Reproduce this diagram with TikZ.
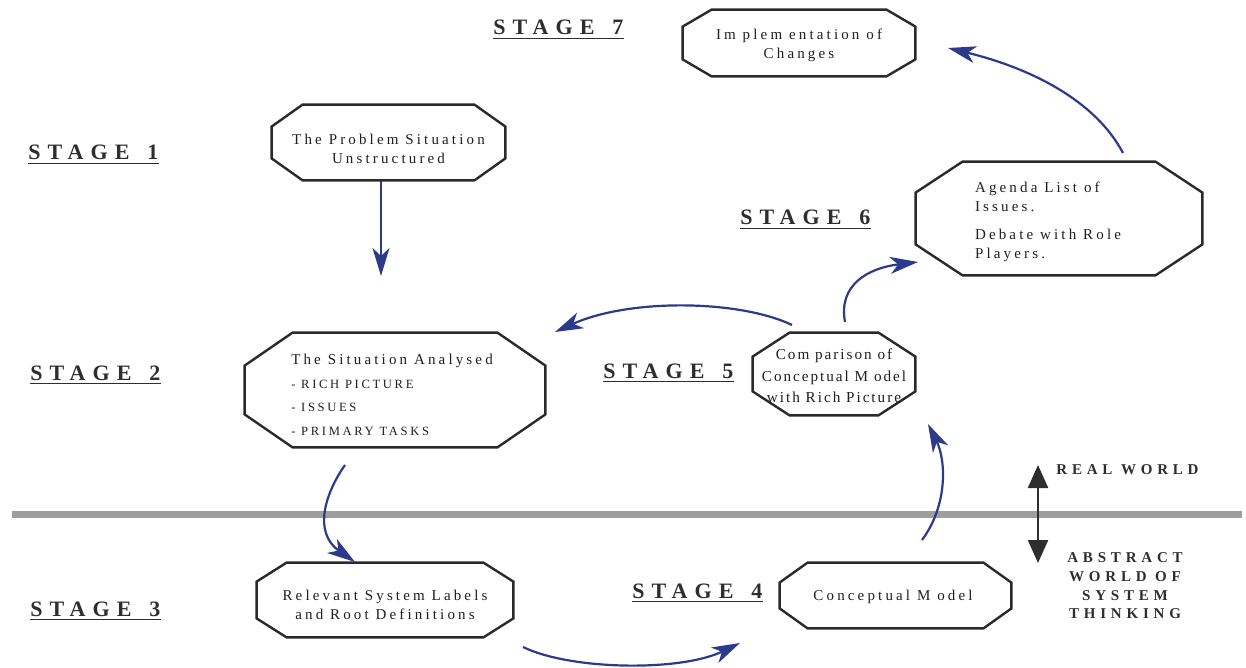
\documentclass[tikz,border=0pt]{standalone}
\usepackage{fontspec}
\setmainfont{Liberation Serif}
\newfontfamily\boxfont[LetterSpace=21]{Liberation Serif}
\newfontfamily\cmpfont[LetterSpace=13]{Liberation Serif}
\newfontfamily\stagefont[LetterSpace=32]{Liberation Serif}
\usetikzlibrary{arrows.meta}
\definecolor{txt}{HTML}{1E1E1E}
\definecolor{stg}{HTML}{2E2E2E}
\definecolor{flowblue}{HTML}{2B3A8A}
\definecolor{bandgray}{HTML}{9E9E9E}
\definecolor{boxline}{HTML}{2A2A2A}
\newcommand\drawoct[3]{\draw[octline] ([xshift=#2]#1.north west) -- ([xshift=-#2]#1.north east) -- ([yshift=-#3]#1.north east) -- ([yshift=#3]#1.south east) -- ([xshift=-#2]#1.south east) -- ([xshift=#2]#1.south west) -- ([yshift=#3]#1.south west) -- ([yshift=-#3]#1.north west) -- cycle;}
\begin{document}
\begin{tikzpicture}[x=0.5pt,y=-0.5pt,
  octline/.style={draw=boxline, line width=1.2pt, line join=miter},
  boxshape/.style={inner sep=0pt},
  boxtext/.style={inner sep=0pt, font=\boxfont\fontsize{7.5}{9.5}\selectfont, text=txt, align=center},
  stagelbl/.style={anchor=base west, inner sep=0pt, font=\stagefont\bfseries\fontsize{11}{12}\selectfont, text=stg},
  worldlbl/.style={inner sep=0pt, font=\stagefont\bfseries\fontsize{7.5}{9.3}\selectfont, text=stg, align=center},
  flow/.style={draw=flowblue, line width=1.1pt, -{Stealth[length=14pt,width=8.5pt,inset=4pt,fill=flowblue]}},
  dbl/.style={draw=stg, line width=1.1pt, {Triangle[length=11.5pt,width=10pt]}-{Triangle[length=11.5pt,width=10pt]}}
]
\path[use as bounding box] (0,0) rectangle (1246,668);

% separation band
\coordinate (bandL) at (12,514);
\coordinate (bandR) at (1242,514);
\draw[draw=bandgray, line width=3.5pt] (bandL) -- (bandR);

% boxes (outline) and their texts
\node[boxshape, minimum width=116pt, minimum height=33pt] (s7) at (799,43) {};
\drawoct{s7}{14.5pt}{8.5pt}
\node[boxtext] (s7t) at (799,45) {Im plem entation of\\Changes};

\node[boxshape, minimum width=116.5pt, minimum height=37.5pt] (s1) at (388.5,142.5) {};
\drawoct{s1}{15.5pt}{11pt}
\node[boxtext] (s1t) at (388.5,149) {The Problem Situation\\Unstructured};

\node[boxshape, minimum width=150pt, minimum height=57pt] (s2) at (395,390) {};
\drawoct{s2}{24pt}{16.5pt}
\node[boxtext, align=left, font=\boxfont\fontsize{7.5}{11.75}\selectfont] (s2t) at (392,395) {The Situation Analysed\\{\fontsize{6.3}{11.75}\selectfont - RICH PICTURE}\\{\fontsize{6.3}{11.75}\selectfont - ISSUES}\\{\fontsize{6.3}{11.75}\selectfont - PRIMARY TASKS}};

\node[boxshape, minimum width=143pt, minimum height=56.5pt] (s6) at (1059,218.5) {};
\drawoct{s6}{23.5pt}{15.5pt}
\node[boxtext, align=left] (s6t) at (1048,222) {Agenda List of\\Issues.\\[4.5pt]Debate with Role\\Players.};

\node[boxshape, minimum width=81pt, minimum height=41pt] (s5) at (834,374) {};
\drawoct{s5}{18.5pt}{12pt}
\node[boxtext, font=\cmpfont\fontsize{7.6}{10.8}\selectfont] (s5t) at (834,376) {Com parison of\\Conceptual M odel\\with Rich Picture};

\node[boxshape, minimum width=128pt, minimum height=37pt] (s3) at (385,600) {};
\drawoct{s3}{15pt}{9.5pt}
\node[boxtext] (s3t) at (385,605) {Relevant System Labels\\and Root Definitions};

\node[boxshape, minimum width=115.5pt, minimum height=32.5pt] (s4) at (895.5,595.5) {};
\drawoct{s4}{14pt}{10pt}
\node[boxtext] (s4t) at (893,597) {Conceptual M odel};

% stage labels
\node[stagelbl] (l7) at (493,35) {\underline{STAGE\hspace{9pt}7}};
\node[stagelbl] (l1) at (28,160) {\underline{STAGE\hspace{9pt}1}};
\node[stagelbl] (l2) at (30,380) {\underline{STAGE\hspace{9pt}2}};
\node[stagelbl] (l3) at (30,616) {\underline{STAGE\hspace{9pt}3}};
\node[stagelbl] (l4) at (632,598) {\underline{STAGE\hspace{9pt}4}};
\node[stagelbl] (l5) at (603,378) {\underline{STAGE\hspace{9pt}5}};
\node[stagelbl] (l6) at (740,225) {\underline{STAGE\hspace{9pt}6}};

% worlds
\node[worldlbl, anchor=west] (rw) at (1056,470) {REAL WORLD};
\node[worldlbl] (aw) at (1125,586) {ABSTRACT\\WORLD OF\\SYSTEM\\THINKING};
\coordinate (dTop) at (1038,465);
\coordinate (dBot) at (1038,563);
\draw[dbl] (dTop) -- (dBot);

% flow arrows
\coordinate (a1s) at (381,181);
\coordinate (a1e) at (381,276);
\draw[flow] (a1s) -- (a1e);
\coordinate (a2s) at (345,465);
\coordinate (a2e) at (355,562);
\draw[flow] (a2s) .. controls (326,492) and (312,532) .. (a2e);
\coordinate (a3s) at (523,647);
\coordinate (a3e) at (740,643);
\draw[flow] (a3s) .. controls (570,670) and (680,672) .. (a3e);
\coordinate (a4s) at (922,540);
\coordinate (a4e) at (928,424);
\draw[flow] (a4s) .. controls (948,505) and (946,460) .. (a4e);
\coordinate (a5s) at (792,325);
\coordinate (a5e) at (555,332);
\draw[flow] (a5s) .. controls (740,300) and (630,298) .. (a5e);
\coordinate (a6s) at (845,322);
\coordinate (a6e) at (918,262);
\draw[flow] (a6s) .. controls (838,285) and (868,268) .. (a6e);
\coordinate (a7s) at (1123,153);
\coordinate (a7e) at (948,48);
\draw[flow] (a7s) .. controls (1095,100) and (1030,68) .. (a7e);
\end{tikzpicture}
\end{document}
